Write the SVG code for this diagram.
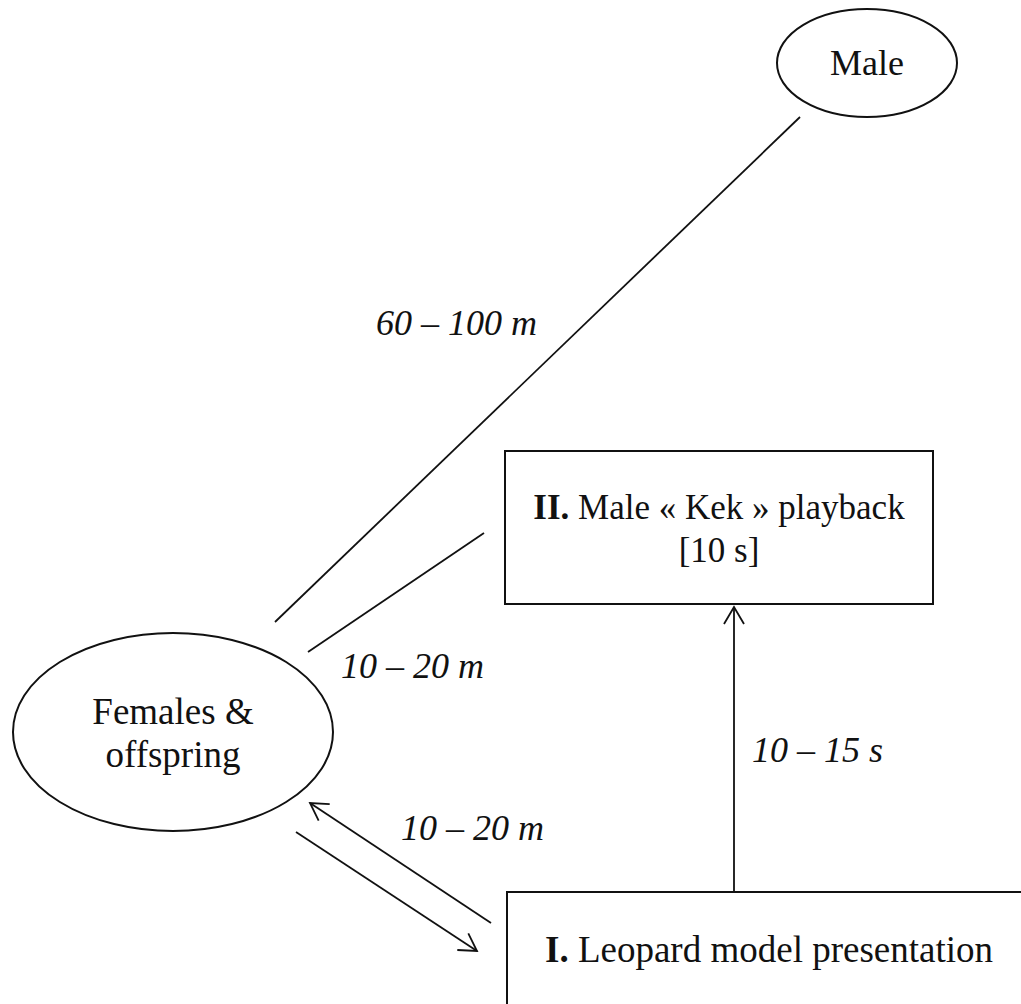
<svg xmlns="http://www.w3.org/2000/svg" width="1021" height="1004" viewBox="0 0 1021 1004">
<defs>
<style>
.shape{fill:#fff;stroke:#111;stroke-width:2}
.edge{fill:none;stroke:#111;stroke-width:1.8}
.t{font-family:"Liberation Serif","Times New Roman",serif;font-size:35px;fill:#111;text-anchor:middle}
.big{font-size:37px}
.lab{font-family:"Liberation Serif","Times New Roman",serif;font-size:36px;font-style:italic;fill:#111}
.b{font-weight:bold}
</style>
<marker id="arr" markerUnits="userSpaceOnUse" viewBox="-20 -12 22 24" refX="0" refY="0" markerWidth="22" markerHeight="24" orient="auto">
<path d="M-17,-10 L0,0 L-17,10" fill="none" stroke="#111" stroke-width="1.8"/>
</marker>
</defs>
<rect width="1021" height="1004" fill="#fff"/>
<g id="connectors">
<line class="edge" x1="275" y1="622" x2="800" y2="117"/>
<line class="edge" x1="308" y1="652" x2="484" y2="533"/>
<line class="edge" x1="734" y1="892" x2="734" y2="607" marker-end="url(#arr)"/>
<line class="edge" x1="491" y1="923" x2="310" y2="803" marker-end="url(#arr)"/>
<line class="edge" x1="296" y1="832" x2="477" y2="951" marker-end="url(#arr)"/>
</g>
<g id="male">
<ellipse class="shape" cx="867" cy="63" rx="90" ry="54"/>
<text class="t" x="867" y="75" style="font-size:36px">Male</text>
</g>
<g id="females">
<ellipse class="shape" cx="173" cy="732" rx="160" ry="99"/>
<text class="t big" x="173" y="724">Females &amp;</text>
<text class="t big" x="173" y="767">offspring</text>
</g>
<g id="playback">
<rect class="shape" x="505" y="451" width="428" height="153"/>
<text class="t" x="719" y="519"><tspan class="b">II.</tspan> Male « Kek » playback</text>
<text class="t" x="719" y="562">[10 s]</text>
</g>
<g id="leopard">
<rect class="shape" x="507" y="892" width="530" height="130"/>
<text class="t big" x="769" y="962"><tspan class="b">I.</tspan> Leopard model presentation</text>
</g>
<g id="labels">
<text class="lab" x="376" y="335">60 – 100 m</text>
<text class="lab" x="341" y="678">10 – 20 m</text>
<text class="lab" x="752" y="762">10 – 15 s</text>
<text class="lab" x="401" y="840">10 – 20 m</text>
</g>
</svg>
